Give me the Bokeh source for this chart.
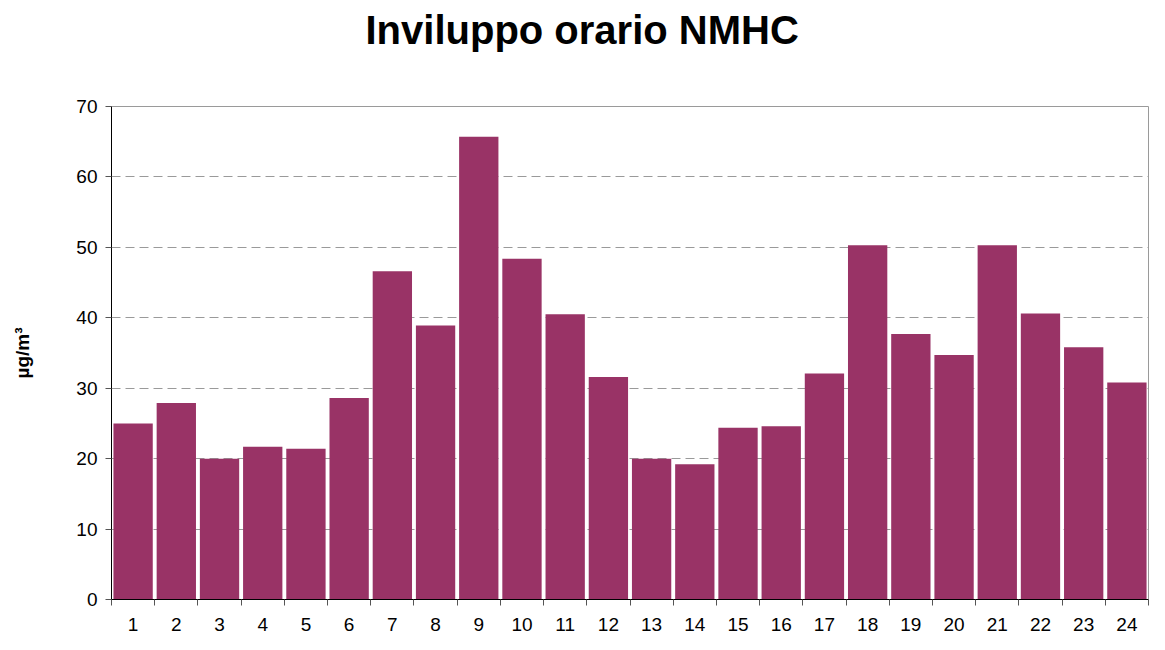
from bokeh.plotting import figure
from bokeh.models import Range1d, FixedTicker, Title
from bokeh.embed import file_html
from bokeh.resources import INLINE

hours = list(range(1, 25))
hour_labels = [str(h) for h in hours]
nmhc = [25.0, 27.9, 20.0, 21.7, 21.4, 28.6, 46.6, 38.9, 65.7, 48.4, 40.5, 31.6,
        20.0, 19.2, 24.4, 24.6, 32.1, 50.3, 37.7, 34.7, 50.3, 40.6, 35.8, 30.8]
y_ticks = [0, 10, 20, 30, 40, 50, 60, 70]
grid_ticks = [10, 20, 30, 40, 50, 60]
title_text = "Inviluppo orario NMHC"

FONT = "Liberation Sans"
W, H = 1149, 634
LEFT, RIGHT, BOTTOM = 111, 1, 35

p = figure(width=W, height=H, output_backend="svg", toolbar_location=None,
           x_range=Range1d(0.5, 24.5), y_range=Range1d(0, 70),
           min_border_left=LEFT, min_border_right=RIGHT, min_border_bottom=BOTTOM,
           min_border_top=0)
p.title = None

# spacer panel between title and plot frame
spacer = Title(text=" ", text_font_size="1px", standoff=43, text_color="#ffffff")
p.add_layout(spacer, "above")

title = Title(text=title_text, align="left", offset=254, vertical_align="top",
              standoff=14, text_font=FONT, text_font_size="40px",
              text_font_style="bold", text_color="#000000")
p.add_layout(title, "above")

p.vbar(x=hours, top=nmhc, width=0.91, fill_color="#993366", line_color=None)

# y axis
p.yaxis.ticker = FixedTicker(ticks=y_ticks)
p.yaxis.axis_line_color = "#000000"
p.yaxis.major_tick_out = 6
p.yaxis.major_tick_in = 0
p.yaxis.major_tick_line_color = "#555555"
p.yaxis.minor_tick_line_color = None
p.yaxis.major_label_text_font = FONT
p.yaxis.major_label_text_font_size = "19px"
p.yaxis.major_label_text_color = "#000000"
p.yaxis.major_label_standoff = 8
p.yaxis.axis_label = "µg/m³"
p.yaxis.axis_label_text_font = FONT
p.yaxis.axis_label_text_font_size = "19px"
p.yaxis.axis_label_text_font_style = "bold"
p.yaxis.axis_label_text_color = "#000000"
p.yaxis.axis_label_standoff = 40

# x axis: labels at bar centres, ticks between bars
p.xaxis.ticker = FixedTicker(ticks=hours, minor_ticks=[h + 0.5 for h in [0] + hours])
p.xaxis.major_label_overrides = {h: s for h, s in zip(hours, hour_labels)}
p.xaxis.axis_line_color = "#000000"
p.xaxis.major_tick_line_color = None
p.xaxis.major_tick_out = 6
p.xaxis.major_tick_in = 0
p.xaxis.minor_tick_line_color = "#555555"
p.xaxis.minor_tick_out = 6
p.xaxis.minor_tick_in = 0
p.xaxis.major_label_text_font = FONT
p.xaxis.major_label_text_font_size = "19px"
p.xaxis.major_label_text_color = "#000000"
p.xaxis.major_label_standoff = 12

# grid
p.xgrid.grid_line_color = None
p.ygrid.ticker = FixedTicker(ticks=grid_ticks)
p.ygrid.grid_line_color = "#9a9a9a"
p.ygrid.grid_line_dash = "9 5"
p.ygrid.grid_line_width = 1

p.outline_line_color = "#9a9a9a"
p.outline_line_width = 1
p.background_fill_color = "#ffffff"
p.border_fill_color = "#ffffff"

open("out.html", "w").write(file_html(p, INLINE))
